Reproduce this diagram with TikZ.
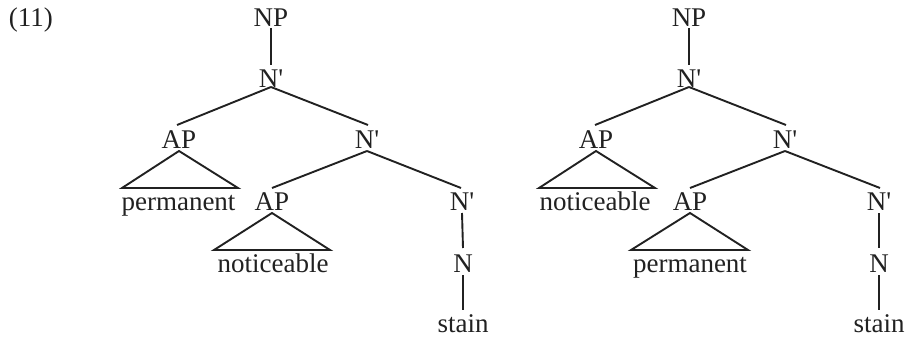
\documentclass[tikz,border=0pt]{standalone}
\usepackage{fontspec}
\setmainfont{Liberation Serif}
\definecolor{ink}{rgb}{0.13,0.13,0.13}
\newcommand{\nbar}{N\textquotesingle}
\begin{document}
\begin{tikzpicture}[x=1pt,y=-1pt,line width=1.9pt,draw=ink,
  lab/.style={anchor=base,inner sep=0pt,text=ink,font=\fontsize{27}{30}\selectfont},
  edge/.style={draw=ink,line width=1.9pt}]
\useasboundingbox (0,0) rectangle (907,337);
\node[lab,anchor=base west] (ex) at (8,27) {(11)};
% left tree
\node[lab] (np1) at (271,27) {NP};
\node[lab] (nb1) at (271,87) {\nbar};
\node[lab] (ap1) at (179,148) {AP};
\node[lab] (nb2) at (367,148) {\nbar};
\node[lab] (perm1) at (178.5,210) {permanent};
\node[lab] (ap2) at (272,210) {AP};
\node[lab] (nb3) at (462,210) {\nbar};
\node[lab] (not1) at (273,272) {noticeable};
\node[lab] (n1) at (463,272) {N};
\node[lab] (st1) at (463,332) {stain};
\draw[edge] ([yshift=-1pt]np1.base) -- ([yshift=22pt]nb1.base);
\draw[edge] ([yshift=0pt]nb1.base) -- ([xshift=-2pt,yshift=23pt]ap1.base);
\draw[edge] ([yshift=0pt]nb1.base) -- ([xshift=1pt,yshift=23pt]nb2.base);
\draw[edge] ([yshift=-3pt]nb2.base) -- ([yshift=22pt]ap2.base);
\draw[edge] ([yshift=-3pt]nb2.base) -- ([xshift=-1pt,yshift=22pt]nb3.base);
\draw[edge] ([yshift=-3pt]nb3.base) -- ([yshift=24pt]n1.base);
\draw[edge] ([yshift=-3pt]n1.base) -- ([yshift=22pt]st1.base);
\draw[edge,line join=miter] ([yshift=-3pt]ap1.base) -- ++(-57,37) -- ++(116,0) -- cycle;
\draw[edge,line join=miter] ([yshift=-3pt]ap2.base) -- ++(-58,37) -- ++(116,0) -- cycle;
% right tree
\node[lab] (np2) at (689,27) {NP};
\node[lab] (nb4) at (689,87) {\nbar};
\node[lab] (ap3) at (596,148) {AP};
\node[lab] (nb5) at (785,148) {\nbar};
\node[lab] (not2) at (595,210) {noticeable};
\node[lab] (ap4) at (690,210) {AP};
\node[lab] (nb6) at (879,210) {\nbar};
\node[lab] (perm2) at (690,272) {permanent};
\node[lab] (n2) at (879,272) {N};
\node[lab] (st2) at (879,332) {stain};
\draw[edge] ([yshift=-1pt]np2.base) -- ([yshift=22pt]nb4.base);
\draw[edge] ([yshift=0pt]nb4.base) -- ([xshift=-1pt,yshift=23pt]ap3.base);
\draw[edge] ([yshift=0pt]nb4.base) -- ([xshift=1pt,yshift=23pt]nb5.base);
\draw[edge] ([yshift=-3pt]nb5.base) -- ([yshift=22pt]ap4.base);
\draw[edge] ([yshift=-3pt]nb5.base) -- ([xshift=1pt,yshift=22pt]nb6.base);
\draw[edge] ([yshift=-3pt]nb6.base) -- ([yshift=24pt]n2.base);
\draw[edge] ([yshift=-3pt]n2.base) -- ([yshift=22pt]st2.base);
\draw[edge,line join=miter] ([yshift=-3pt]ap3.base) -- ++(-57,37) -- ++(116,0) -- cycle;
\draw[edge,line join=miter] ([yshift=-3pt]ap4.base) -- ++(-59,37) -- ++(117,0) -- cycle;
\end{tikzpicture}
\end{document}
